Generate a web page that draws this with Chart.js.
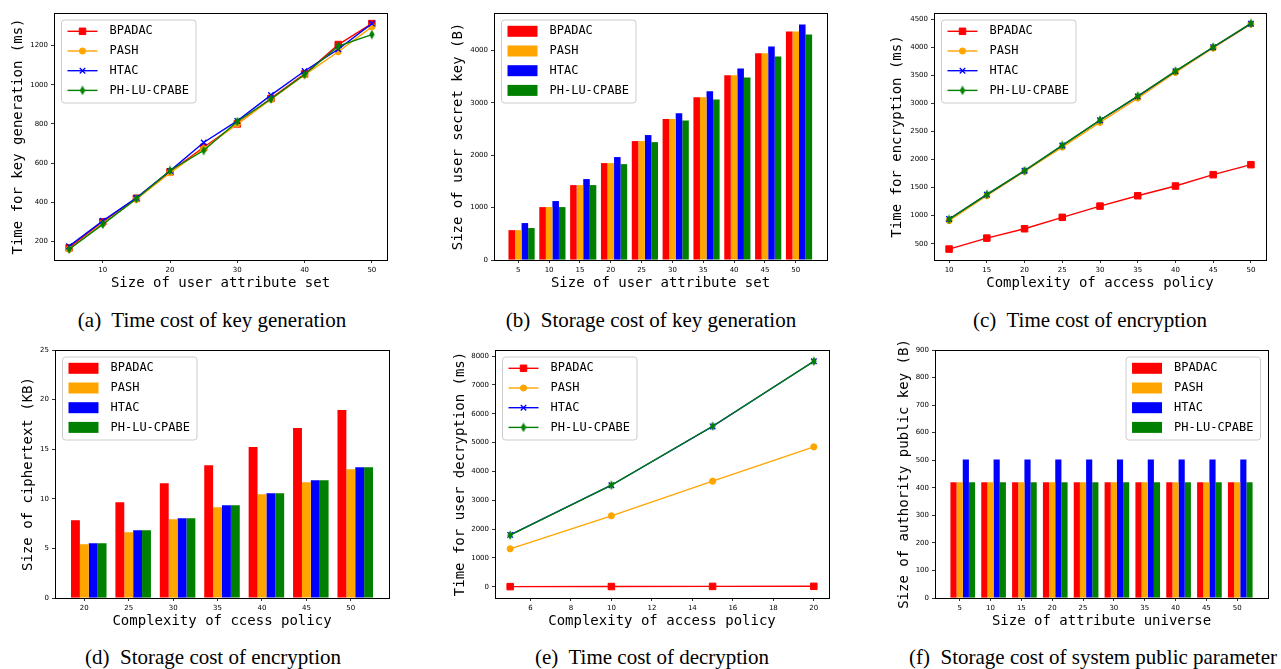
<!DOCTYPE html>
<html>
<head>
<meta charset="utf-8">
<script src="https://cdn.jsdelivr.net/npm/chart.js"></script>
<style>
  body { margin: 0; background: #fff; width: 1281px; height: 669px; position: relative; overflow: hidden; }
  canvas { position: absolute; }
  .cap { position: absolute; font: 21px "Liberation Serif", "DejaVu Serif", serif; line-height: 21px;
         white-space: pre; color: #000; transform: translateX(-50%); }
</style>
</head>
<body>
<canvas id="chartA"></canvas>
<canvas id="chartB"></canvas>
<canvas id="chartC"></canvas>
<canvas id="chartD"></canvas>
<canvas id="chartE"></canvas>
<canvas id="chartF"></canvas>
<div class="cap" style="left:212px;top:310px">(a)  Time cost of key generation</div>
<div class="cap" style="left:651px;top:310px">(b)  Storage cost of key generation</div>
<div class="cap" style="left:1090px;top:310px">(c)  Time cost of encryption</div>
<div class="cap" style="left:213px;top:647px">(d)  Storage cost of encryption</div>
<div class="cap" style="left:652px;top:647px">(e)  Time cost of decryption</div>
<div class="cap" style="left:1093px;top:647px">(f)  Storage cost of system public parameter</div>
<script>
const seriesNames = ["BPADAC", "PASH", "HTAC", "PH-LU-CPABE"];
const seriesColors = ["#ff0000", "#ffa500", "#0000ff", "#008000"];

// (a) time for key generation (ms)
const attrSizes = [5, 10, 15, 20, 25, 30, 35, 40, 45, 50];
const keyGenTime = [
  [167, 300, 420, 555, 680, 800, 930, 1055, 1205, 1312],
  [160, 292, 415, 550, 673, 800, 925, 1050, 1168, 1295],
  [176, 305, 422, 560, 705, 815, 947, 1070, 1181, 1312],
  [160, 287, 418, 562, 664, 812, 927, 1052, 1197, 1256]
];
const keyGenXTicks = [10, 20, 30, 40, 50];
const keyGenYTicks = [200, 400, 600, 800, 1000, 1200];

// (b) size of user secret key (B)
const keySize = [
  [570, 1010, 1430, 1850, 2270, 2690, 3105, 3525, 3945, 4360],
  [570, 1010, 1430, 1850, 2270, 2690, 3105, 3525, 3945, 4360],
  [705, 1125, 1545, 1965, 2385, 2800, 3220, 3655, 4075, 4495],
  [610, 1010, 1430, 1830, 2250, 2665, 3065, 3485, 3885, 4305]
];
const keySizeYTicks = [0, 1000, 2000, 3000, 4000];

// (c) time for encryption (ms)
const encPolicy = [10, 15, 20, 25, 30, 35, 40, 45, 50];
const encTime = [
  [405, 600, 767, 970, 1170, 1355, 1528, 1730, 1908],
  [910, 1355, 1789, 2222, 2662, 3095, 3552, 3986, 4412],
  [940, 1375, 1800, 2250, 2700, 3125, 3572, 4000, 4420],
  [933, 1380, 1801, 2252, 2703, 3131, 3576, 4004, 4424]
];
const encYTicks = [500, 1000, 1500, 2000, 2500, 3000, 3500, 4000, 4500];

// (d) size of ciphertext (KB)
const ctPolicy = [20, 25, 30, 35, 40, 45, 50];
const ctSize = [
  [7.84, 9.66, 11.57, 13.39, 15.21, 17.13, 18.94],
  [5.42, 6.63, 7.94, 9.15, 10.46, 11.68, 12.99],
  [5.52, 6.83, 8.04, 9.35, 10.57, 11.88, 13.19],
  [5.52, 6.83, 8.04, 9.35, 10.57, 11.88, 13.19]
];
const ctYTicks = [0, 5, 10, 15, 20, 25];

// (e) time for user decryption (ms)
const decPolicy = [5, 10, 15, 20];
const decTime = [
  [5, 8, 12, 15],
  [1316, 2460, 3660, 4850],
  [1800, 3520, 5560, 7820],
  [1790, 3522, 5566, 7818]
];
const decXTicks = [6, 8, 10, 12, 14, 16, 18, 20];
const decYTicks = [0, 1000, 2000, 3000, 4000, 5000, 6000, 7000, 8000];

// (f) size of authority public key (B)
const universe = [5, 10, 15, 20, 25, 30, 35, 40, 45, 50];
const pkSize = [
  [420, 420, 420, 420, 420, 420, 420, 420, 420, 420],
  [420, 420, 420, 420, 420, 420, 420, 420, 420, 420],
  [503, 503, 503, 503, 503, 503, 503, 503, 503, 503],
  [420, 420, 420, 420, 420, 420, 420, 420, 420, 420]
];
const pkYTicks = [0, 100, 200, 300, 400, 500, 600, 700, 800, 900];

// thin diamond marker like matplotlib 'd'
const diamond = document.createElement("canvas");
diamond.width = 6; diamond.height = 10;
const dctx = diamond.getContext("2d");
dctx.fillStyle = "#008000";
dctx.beginPath();
dctx.moveTo(3, 0.3); dctx.lineTo(5.7, 5); dctx.lineTo(3, 9.7); dctx.lineTo(0.3, 5);
dctx.closePath(); dctx.fill();

const markerStyles = ["rect", "circle", "crossRot", diamond];
const markerRadius = [4.6, 3.1, 3.9, 4];
const markerBorder = [1, 1, 1.3, 0];

const tickFont = { family: "DejaVu Sans", size: 7 };
const titleFont = { family: "DejaVu Sans Mono", size: 14 };
const PAD = 10, XH = 32;

const framePlugin = {
  id: "frame",
  afterDatasetsDraw(chart) {
    const { ctx, chartArea: a } = chart;
    ctx.save();
    ctx.strokeStyle = "#000";
    ctx.lineWidth = 1;
    ctx.strokeRect(Math.round(a.left) + 0.5, Math.round(a.top) + 0.5,
      Math.round(a.right - a.left), Math.round(a.bottom - a.top));
    ctx.restore();
  }
};

const boxLegend = {
  id: "boxLegend",
  afterDraw(chart, args, opts) {
    const { ctx, chartArea: a } = chart;
    const sets = chart.data.datasets;
    ctx.save();
    ctx.font = '12px "DejaVu Sans Mono"';
    const tw = Math.max(...sets.map(d => ctx.measureText(d.label).width));
    const w = 48 + tw + 7, h = 83;
    const x = opts.align === "right" ? a.right - 7.5 - w : a.left + 7.5;
    const y = a.top + 7;
    ctx.beginPath();
    ctx.roundRect(x, y, w, h, 3);
    ctx.fillStyle = "rgba(255,255,255,0.8)";
    ctx.fill();
    ctx.strokeStyle = "#cccccc";
    ctx.lineWidth = 1;
    ctx.stroke();
    sets.forEach((d, i) => {
      const cy = y + 11.3 + i * 19.7;
      if (opts.kind === "bar") {
        ctx.fillStyle = d.backgroundColor;
        ctx.fillRect(x + 6, cy - 5.5, 30, 11);
      } else {
        ctx.strokeStyle = d.borderColor;
        ctx.lineWidth = d.borderWidth;
        ctx.beginPath();
        ctx.moveTo(x + 6, cy); ctx.lineTo(x + 36, cy);
        ctx.stroke();
        ctx.fillStyle = d.backgroundColor;
        ctx.lineWidth = d.pointBorderWidth;
        Chart.helpers.drawPoint(ctx, {
          pointStyle: d.pointStyle, radius: d.pointRadius,
          borderWidth: d.pointBorderWidth, rotation: 0
        }, x + 21, cy);
      }
      ctx.fillStyle = "#000";
      ctx.textBaseline = "middle";
      ctx.textAlign = "left";
      ctx.font = '12px "DejaVu Sans Mono"';
      ctx.fillText(d.label, x + 48, cy);
    });
    ctx.restore();
  }
};

function axis(range, ticks, title, size, isX) {
  return {
    type: "linear",
    position: isX ? "bottom" : "left",
    min: range[0], max: range[1],
    offset: false,
    afterBuildTicks: s => { s.ticks = ticks.map(v => ({ value: v })); },
    afterFit: s => { if (isX) s.height = size; else s.width = size; },
    grid: { drawOnChartArea: false, offset: false, color: "#000", lineWidth: 0.8, tickLength: 3 },
    border: { display: false },
    ticks: { font: tickFont, color: "#000", padding: isX ? 2.5 : 3, maxRotation: 0,
             autoSkip: false, callback: v => String(v) },
    title: { display: true, text: title, font: titleFont, color: "#000", padding: 0 }
  };
}

function lineSets(xs, rows) {
  return rows.map((vals, i) => ({
    label: seriesNames[i],
    data: xs.map((x, j) => ({ x: x, y: vals[j] })),
    borderColor: seriesColors[i],
    backgroundColor: seriesColors[i],
    borderWidth: 1.4,
    pointStyle: markerStyles[i],
    pointRadius: markerRadius[i],
    pointBorderWidth: markerBorder[i],
    pointBorderColor: seriesColors[i],
    pointBackgroundColor: seriesColors[i],
    order: rows.length - i
  }));
}

function barSets(xs, rows, catPct) {
  return rows.map((vals, i) => ({
    label: seriesNames[i],
    data: xs.map((x, j) => ({ x: x, y: vals[j] })),
    backgroundColor: seriesColors[i],
    borderWidth: 0,
    barPercentage: 1,
    categoryPercentage: catPct,
    xAxisID: "xb",
    yAxisID: "y"
  }));
}

function place(id, box) {
  const cv = document.getElementById(id);
  cv.width = box.R - box.L + box.yw + 2 * PAD;
  cv.height = box.B - box.T + XH + 2 * PAD;
  cv.style.left = (box.L - box.yw - PAD) + "px";
  cv.style.top = (box.T - PAD) + "px";
  return cv;
}

function lineChart(id, box, xs, rows, xRange, xTicks, yRange, yTicks, xTitle, yTitle) {
  new Chart(place(id, box), {
    type: "line",
    data: { datasets: lineSets(xs, rows) },
    options: {
      responsive: false, animation: false, events: [],
      layout: { padding: PAD },
      plugins: { legend: { display: false }, tooltip: { enabled: false },
                 boxLegend: { align: "left", kind: "line" } },
      scales: {
        x: axis(xRange, xTicks, xTitle, XH, true),
        y: axis(yRange, yTicks, yTitle, box.yw, false)
      }
    },
    plugins: [framePlugin, boxLegend]
  });
}

function barChart(id, box, xs, rows, catPct, xRange, yRange, yTicks, xTitle, yTitle, align) {
  // bars sit half a bar to the right of their tick, as in the original figure
  const step = xs[1] - xs[0];
  const shift = step * catPct / rows.length / 2;
  const xb = {
    type: "linear", display: false, offset: false,
    grid: { offset: false },
    min: xRange[0] - shift, max: xRange[1] - shift,
    afterBuildTicks: s => { s.ticks = xs.map(v => ({ value: v })); }
  };
  new Chart(place(id, box), {
    type: "bar",
    data: { datasets: barSets(xs, rows, catPct) },
    options: {
      responsive: false, animation: false, events: [],
      layout: { padding: PAD },
      plugins: { legend: { display: false }, tooltip: { enabled: false },
                 boxLegend: { align: align, kind: "bar" } },
      scales: {
        x: axis(xRange, xs, xTitle, XH, true),
        xb: xb,
        y: axis(yRange, yTicks, yTitle, box.yw, false)
      }
    },
    plugins: [framePlugin, boxLegend]
  });
}

lineChart("chartA", { L: 54, T: 13, R: 387, B: 260, yw: 44 },
  attrSizes, keyGenTime, [2.75, 52.25], keyGenXTicks, [105, 1366], keyGenYTicks,
  "Size of user attribute set", "Time for key generation (ms)");

barChart("chartB", { L: 494, T: 13, R: 827, B: 260, yw: 44 },
  attrSizes, keySize, 0.85, [1.06, 55.07], [0, 4715], keySizeYTicks,
  "Size of user attribute set", "Size of user secret key (B)", "left");

lineChart("chartC", { L: 934, T: 13, R: 1266, B: 260, yw: 45 },
  encPolicy, encTime, [8, 52], encPolicy, [210, 4610], encYTicks,
  "Complexity of access policy", "Time for encryption (ms)");

barChart("chartD", { L: 55, T: 350, R: 389, B: 598, yw: 35 },
  ctPolicy, ctSize, 0.8, [16.7, 54.3], [0, 25], ctYTicks,
  "Complexity of ccess policy", "Size of ciphertext (KB)", "left");

lineChart("chartE", { L: 495, T: 350, R: 829, B: 598, yw: 43 },
  decPolicy, decTime, [4.25, 20.75], decXTicks, [-390, 8210], decYTicks,
  "Complexity of access policy", "Time for user decryption (ms)");

barChart("chartF", { L: 935, T: 350, R: 1268, B: 598, yw: 39 },
  universe, pkSize, 0.8, [1, 55], [0, 900], pkYTicks,
  "Size of attribute universe", "Size of authority public key (B)", "right");
</script>
</body>
</html>
